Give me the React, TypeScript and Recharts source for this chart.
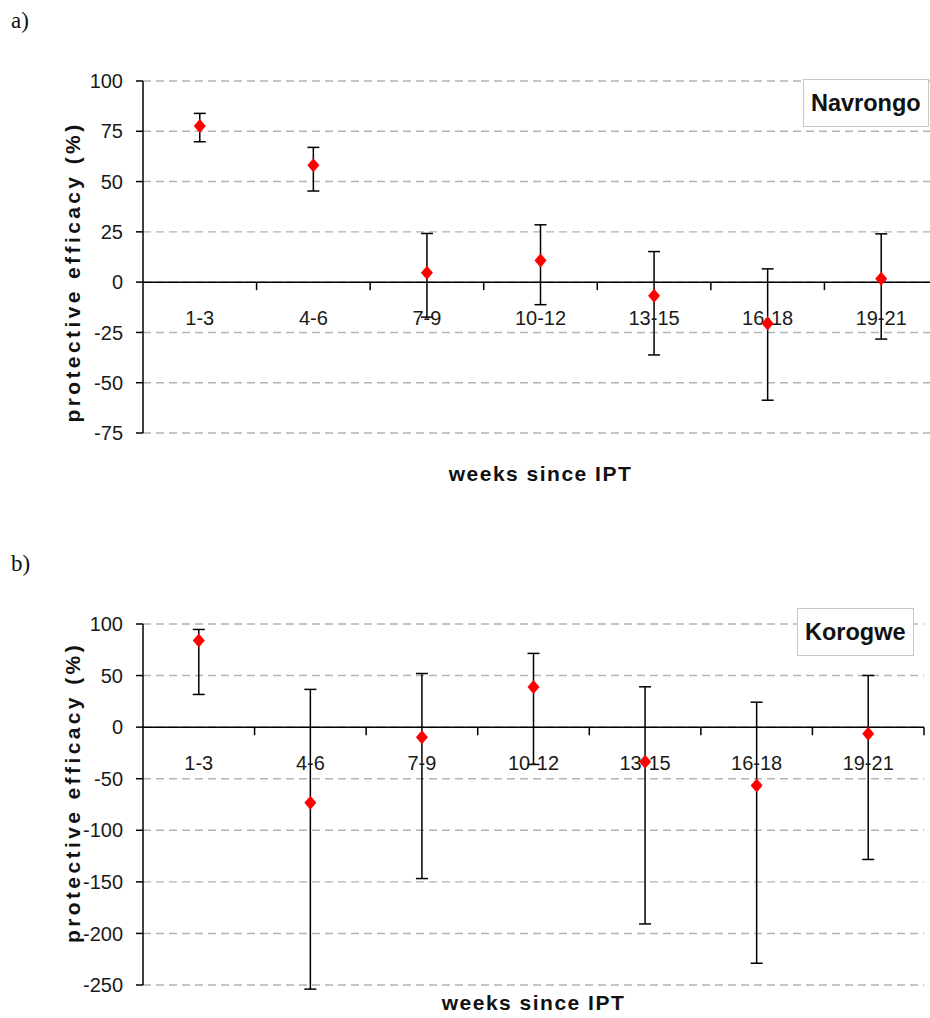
import React from "react";
import {
  ComposedChart,
  Scatter,
  ErrorBar,
  XAxis,
  YAxis,
  CartesianGrid,
  ReferenceLine,
  Legend,
} from "recharts";

// weeks since IPT
const weeks = ["1-3", "4-6", "7-9", "10-12", "13-15", "16-18", "19-21"];

// a) Navrongo: protective efficacy (%) with 95% CI
const navrongoPE = [77.6, 58.1, 4.7, 10.8, -6.8, -20.6, 1.7];
const navrongoLow = [69.8, 45.3, -17.4, -11.2, -36.2, -58.7, -28.3];
const navrongoHigh = [83.9, 67.0, 24.2, 28.5, 15.2, 6.6, 24.0];
const navrongoTicks = [-75, -50, -25, 0, 25, 50, 75, 100];

// b) Korogwe
const korogwePE = [84.0, -73.4, -9.7, 38.8, -33.6, -56.6, -6.5];
const korogweLow = [31.7, -254, -146.8, -36.2, -190.8, -228.9, -128.3];
const korogweHigh = [94.7, 36.6, 52.0, 71.5, 39.1, 24.2, 50.1];
const korogweTicks = [-250, -200, -150, -100, -50, 0, 50, 100];

const SANS = "'Liberation Sans', Arial, sans-serif";

function buildRows(pe: number[], low: number[], high: number[]) {
  return weeks.map((w, i) => ({
    x: i + 0.5,
    y: pe[i],
    week: w,
    err: [pe[i] - low[i], high[i] - pe[i]],
  }));
}

// category labels sit on the zero line, boundary ticks between categories
const labelRows = weeks.map((w, i) => ({x: i + 0.5, y: 0, week: w}));
const boundaryRows = weeks.map((_, i) => ({x: i + 1, y: 0}));

const Diamond = (p: any) => {
  const {cx, cy} = p;
  if (cx == null || cy == null) return null;
  return (
    <polygon
      points={`${cx},${cy - 7} ${cx + 6},${cy} ${cx},${cy + 7} ${cx - 6},${cy}`}
      fill="#ff0000"
    />
  );
};

const WeekLabel = (p: any) => {
  const {cx, cy, payload} = p;
  if (cx == null || cy == null) return null;
  return (
    <text
      x={cx}
      y={cy + 36}
      textAnchor="middle"
      dominantBaseline="central"
      fontFamily={SANS}
      fontSize={20}
      fill="#1a1a1a"
    >
      {payload.week}
    </text>
  );
};

const BoundaryTick = (p: any) => {
  const {cx, cy} = p;
  if (cx == null || cy == null) return null;
  return <line x1={cx} x2={cx} y1={cy} y2={cy + 8} stroke="#000" strokeWidth={1.5} />;
};

const XTitle = (p: any) => {
  const {viewBox, text, gap} = p;
  return (
    <text
      x={viewBox.x + viewBox.width / 2}
      y={viewBox.y + gap}
      textAnchor="middle"
      dominantBaseline="central"
      fontFamily={SANS}
      fontWeight="bold"
      fontSize={21}
      fill="#111"
      style={{letterSpacing: 1.5}}
    >
      {text}
    </text>
  );
};

const YTitle = (p: any) => {
  const {viewBox, text, across, shift} = p;
  const cx = viewBox.x + across;
  const cy = viewBox.y + viewBox.height / 2 + shift;
  return (
    <text
      x={cx}
      y={cy}
      transform={`rotate(-90 ${cx} ${cy})`}
      textAnchor="middle"
      dominantBaseline="central"
      fontFamily={SANS}
      fontWeight="bold"
      fontSize={21}
      fill="#111"
      style={{letterSpacing: 3.4}}
    >
      {text}
    </text>
  );
};

const SiteBox = ({name}: {name: string}) => (
  <div
    style={{
      border: "1.5px solid #c8c8c8",
      background: "#fff",
      padding: "0 7px",
      height: 46,
      lineHeight: "46px",
      fontFamily: SANS,
      fontWeight: "bold",
      fontSize: 23.5,
      color: "#111",
      whiteSpace: "nowrap",
    }}
  >
    {name}
  </div>
);

type PanelProps = {
  site: string;
  rows: ReturnType<typeof buildRows>;
  ticks: number[];
  width: number;
  height: number;
  margin: {top: number; right: number; bottom: number; left: number};
  xAxisHeight: number;
  xTitleGap: number;
  yTitleShift: number;
  legendPos: {top: number; left: number};
  clip: boolean;
};

function Panel(props: PanelProps) {
  const {site, rows, ticks, width, height, margin, xAxisHeight, xTitleGap, yTitleShift, legendPos, clip} = props;
  return (
    <ComposedChart width={width} height={height} margin={margin}>
      <CartesianGrid
        vertical={false}
        stroke="#b3b3b3"
        strokeWidth={1.4}
        strokeDasharray="8 5"
      />
      <XAxis
        type="number"
        dataKey="x"
        domain={[0, weeks.length]}
        tick={false}
        tickLine={false}
        axisLine={false}
        height={xAxisHeight}
        label={<XTitle text="weeks since IPT" gap={xTitleGap} />}
      />
      <YAxis
        type="number"
        dataKey="y"
        domain={[ticks[0], ticks[ticks.length - 1]]}
        ticks={ticks}
        allowDataOverflow={clip}
        width={90}
        tickSize={7}
        tickMargin={13}
        axisLine={{stroke: "#000", strokeWidth: 1.5}}
        tickLine={{stroke: "#000", strokeWidth: 1.5}}
        tick={{fontFamily: SANS, fontSize: 20, fill: "#1a1a1a"}}
        label={
          <YTitle text="protective efficacy (%)" across={19} shift={yTitleShift} />
        }
      />
      <ReferenceLine y={0} stroke="#000" strokeWidth={1.5} />
      <Scatter
        data={labelRows}
        shape={WeekLabel}
        legendType="none"
        isAnimationActive={false}
      />
      <Scatter
        data={boundaryRows}
        shape={BoundaryTick}
        legendType="none"
        isAnimationActive={false}
      />
      <Scatter name={site} data={rows} shape={Diamond} isAnimationActive={false}>
        <ErrorBar
          dataKey="err"
          direction="y"
          width={6}
          stroke="#000"
          strokeWidth={1.5}
          isAnimationActive={false}
        />
      </Scatter>
      <Legend
        layout="vertical"
        verticalAlign="middle"
        align="center"
        wrapperStyle={{top: legendPos.top, left: legendPos.left, width: "auto"}}
        content={() => <SiteBox name={site} />}
      />
    </ComposedChart>
  );
}

const panelLetter: React.CSSProperties = {
  position: "absolute",
  left: 11,
  fontFamily: "'Liberation Serif', 'Times New Roman', serif",
  fontSize: 23,
  lineHeight: "23px",
  color: "#111",
};

export default function App() {
  const navrongoRows = buildRows(navrongoPE, navrongoLow, navrongoHigh);
  const korogweRows = buildRows(korogwePE, korogweLow, korogweHigh);

  return (
    <div
      style={{
        position: "absolute",
        left: 0,
        top: 0,
        width: 930,
        height: 1018,
        overflow: "hidden",
        background: "#fff",
      }}
    >
      <div style={{...panelLetter, top: 9}}>a)</div>
      <div style={{position: "absolute", left: 0, top: 0}}>
        <Panel
          site="Navrongo"
          rows={navrongoRows}
          ticks={navrongoTicks}
          width={945}
          height={500}
          margin={{top: 81, right: 7, bottom: 17, left: 53}}
          xAxisHeight={50}
          xTitleGap={40}
          yTitleShift={15}
          legendPos={{top: 79, left: 803}}
          clip={false}
        />
      </div>

      <div style={{...panelLetter, top: 552}}>b)</div>
      <div style={{position: "absolute", left: 0, top: 540}}>
        <Panel
          site="Korogwe"
          rows={korogweRows}
          ticks={korogweTicks}
          width={930}
          height={478}
          margin={{top: 84, right: 6, bottom: 3, left: 53}}
          xAxisHeight={30}
          xTitleGap={17}
          yTitleShift={-12}
          legendPos={{top: 68, left: 797}}
          clip={true}
        />
      </div>
    </div>
  );
}
